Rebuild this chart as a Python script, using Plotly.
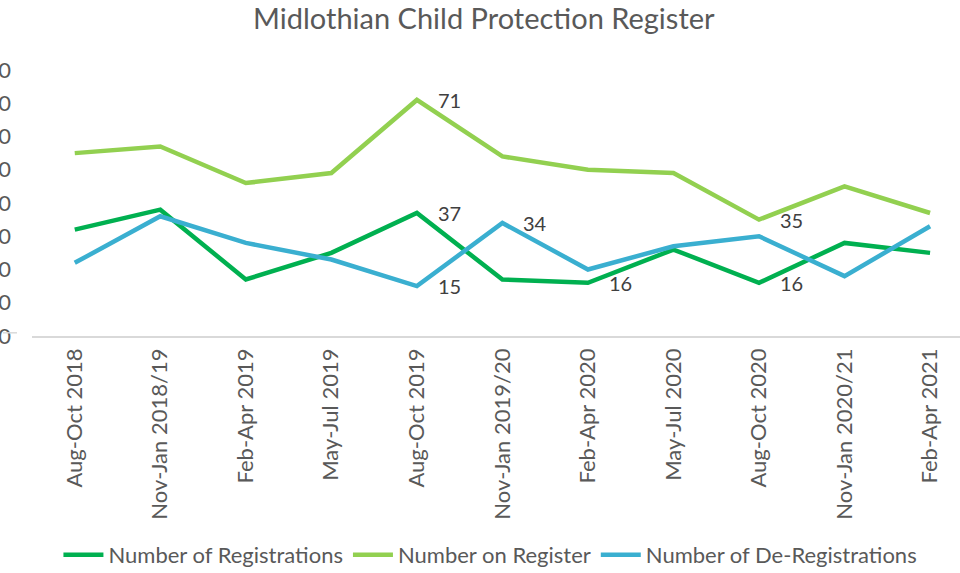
import plotly.graph_objects as go

categories = ["Aug-Oct 2018", "Nov-Jan 2018/19", "Feb-Apr 2019", "May-Jul 2019",
              "Aug-Oct 2019", "Nov-Jan 2019/20", "Feb-Apr 2020", "May-Jul 2020",
              "Aug-Oct 2020", "Nov-Jan 2020/21", "Feb-Apr 2021"]
registrations = [32, 38, 17, 25, 37, 17, 16, 26, 16, 28, 25]
on_register = [55, 57, 46, 49, 71, 54, 50, 49, 35, 45, 37]
deregistrations = [22, 36, 28, 23, 15, 34, 20, 27, 30, 18, 33]

# which points carry a data label (index per series)
reg_labels = [4, 6, 8]
onreg_labels = [4, 8]
dereg_labels = [4, 5]

y_ticks = [0, 10, 20, 30, 40, 50, 60, 70, 80]

FONT = "Lato"
fig = go.Figure()
series = [
    ("Number of Registrations", registrations, "#00B050", reg_labels),
    ("Number on Register", on_register, "#92D050", onreg_labels),
    ("Number of De-Registrations", deregistrations, "#3AAFD0", dereg_labels),
]
for name, vals, col, _ in series:
    fig.add_trace(go.Scatter(x=categories, y=vals, name=name, mode="lines",
                             line=dict(color=col, width=4.5)))

annotations = []
for name, vals, col, idxs in series:
    for i in idxs:
        annotations.append(dict(x=categories[i], y=vals[i], text=str(vals[i]),
                                xref="x", yref="y", showarrow=False,
                                xanchor="left", yanchor="middle", xshift=19,
                                font=dict(family=FONT, size=20, color="#404040")))

fig.update_layout(
    width=960, height=573,
    margin=dict(l=32, r=0, t=70, b=237, autoexpand=False),
    paper_bgcolor="white", plot_bgcolor="white",
    title=dict(text="Midlothian Child Protection Register", x=0.504, xanchor="center",
               y=1 - 19 / 573, yanchor="middle",
               font=dict(family=FONT, size=29, color="#595959")),
    showlegend=True,
    legend=dict(orientation="h", x=0.494, xanchor="center", yref="container",
                y=1 - 555 / 573, yanchor="middle",
                font=dict(family=FONT, size=22, color="#595959"),
                itemwidth=40, tracegroupgap=0),
    annotations=annotations,
    shapes=[dict(type="line", xref="paper", yref="paper", x0=-29 / 928, x1=-15 / 928,
                 y0=0.012, y1=0.012, line=dict(color="#D9D9D9", width=1.5))],
)
fig.update_xaxes(type="category", range=[-0.5, 10.35], showgrid=False, automargin=False,
                 showline=True, linecolor="#D9D9D9", linewidth=1.5,
                 tickangle=-90, ticks="", tickfont=dict(family=FONT, size=22, color="#595959"),
                 ticklabelstandoff=2)
fig.update_yaxes(range=[0, 80], tickvals=y_ticks, showgrid=False, zeroline=False,
                 showline=False, ticks="", automargin=False,
                 tickfont=dict(family=FONT, size=22, color="#595959"),
                 ticklabelstandoff=20)

fig.write_html("out.html", config={"displayModeBar": False},
               post_script="document.body.style.margin='0';")
